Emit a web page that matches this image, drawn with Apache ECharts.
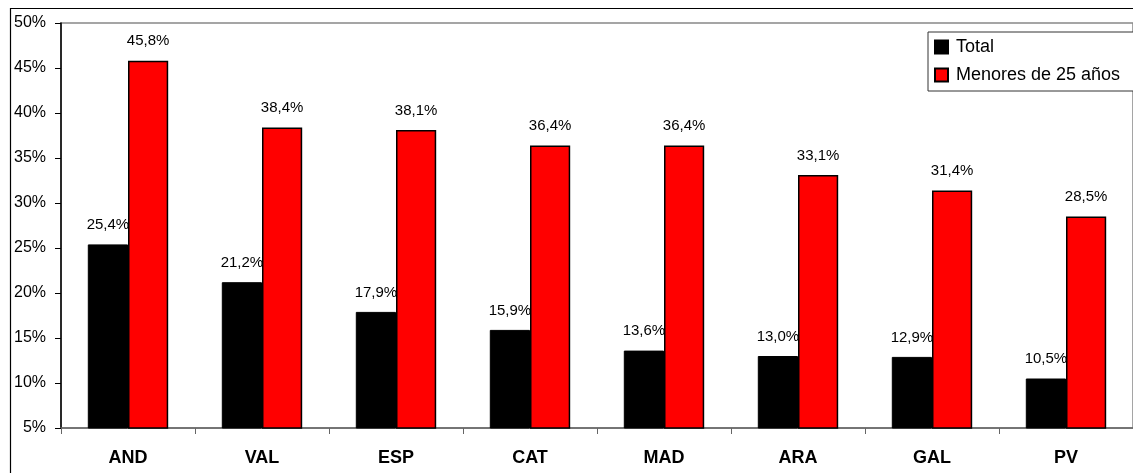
<!DOCTYPE html>
<html><head><meta charset="utf-8">
<script src="https://cdn.jsdelivr.net/npm/echarts@6/dist/echarts.min.js"></script>
<style>html,body{margin:0;padding:0;background:#fff}#c{width:1133px;height:473px}</style>
</head><body><div id="c"></div>
<script>
const categories = ['AND','VAL','ESP','CAT','MAD','ARA','GAL','PV'];
const totalValues = [25.4,21.2,17.9,15.9,13.6,13.0,12.9,10.5];
const youngValues = [45.8,38.4,38.1,36.4,36.4,33.1,31.4,28.5];
const seriesNames = ['Total','Menores de 25 años'];
const fmt = v => v.toFixed(1).replace('.', ',') + '%';
const chart = echarts.init(document.getElementById('c'));
const labelCfg = {show:true, position:'top', distance:12, color:'#000', fontFamily:'Arial, Liberation Sans', fontSize:15, formatter:p=>fmt(p.value)};
chart.setOption({
  animation:false,
  graphic:[{type:'rect', shape:{x:10.5,y:8.5,width:1200,height:500}, style:{fill:'none',stroke:'#000',lineWidth:1.2}, z:-1}],
  grid:{left:61, top:23, width:1078, height:405, show:true, borderColor:'#888', borderWidth:1.5, backgroundColor:'#fff'},
  legend:{
    left:928, top:32, orient:'vertical', itemWidth:13, itemHeight:13, itemGap:10,
    padding:[6,20,7,6], borderColor:'#333', borderWidth:1, backgroundColor:'#fff',
    textStyle:{fontFamily:'Arial, Liberation Sans', fontSize:18, color:'#000', padding:[0,0,0,3]},
    data:[{name:seriesNames[0], icon:'rect'},{name:seriesNames[1], icon:'rect'}]
  },
  xAxis:{type:'category', data:categories,
    axisLine:{lineStyle:{color:'#666', width:1.5}},
    axisTick:{show:true, length:6, lineStyle:{color:'#666'}},
    axisLabel:{fontFamily:'Arial, Liberation Sans', fontSize:18, fontWeight:'bold', color:'#000', margin:21}},
  yAxis:{type:'value', min:5, max:50, interval:5,
    axisLine:{show:true, lineStyle:{color:'#000', width:1.5}},
    axisTick:{show:true, inside:false, length:6, lineStyle:{color:'#000'}},
    splitLine:{show:false},
    axisLabel:{formatter:v=>v+'%', fontFamily:'Arial, Liberation Sans', fontSize:16, color:'#000', margin:15}},
  series:[
    {name:seriesNames[0], type:'bar', data:totalValues, barGap:'0%', barCategoryGap:'40%',
     itemStyle:{color:'#000', borderColor:'#000', borderWidth:1}, label:labelCfg},
    {name:seriesNames[1], type:'bar', data:youngValues,
     itemStyle:{color:'#ff0000', borderColor:'#000', borderWidth:1.5}, label:labelCfg}
  ]
});
</script></body></html>
